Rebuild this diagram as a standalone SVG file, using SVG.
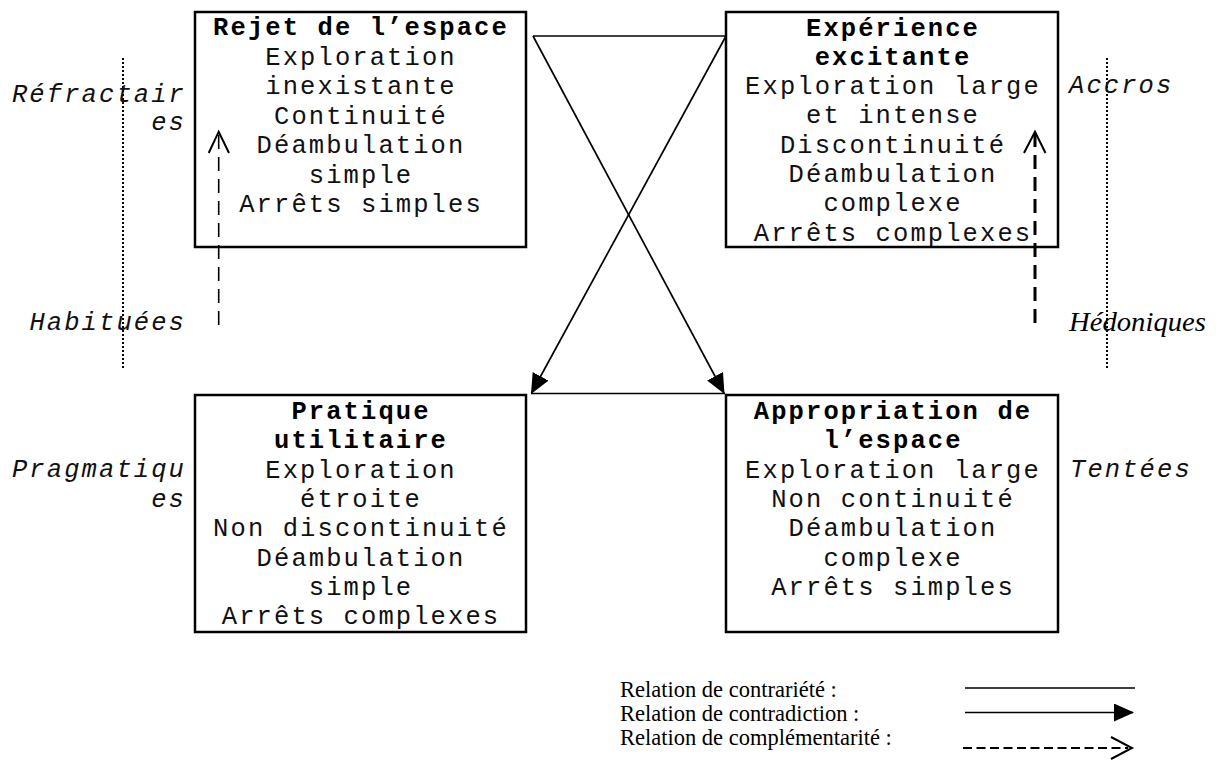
<svg xmlns="http://www.w3.org/2000/svg" width="1216" height="762" viewBox="0 0 1216 762">
  <style>
    .box { fill: #fff; stroke: #000; stroke-width: 2.5; }
    .t { font-family: "Liberation Mono", "Courier New", monospace; font-size: 25.5px; letter-spacing: 2.1px; fill: #111; text-anchor: middle; }
    .b { font-weight: bold; fill: #000; }
    .side { font-family: "Liberation Mono", "Courier New", monospace; font-size: 25.5px; letter-spacing: 2.1px; font-style: italic; fill: #111; }
    .serif { font-family: "Liberation Serif", "Times New Roman", serif; fill: #000; }
    .line { stroke: #000; stroke-width: 1.7; fill: none; }
    .dot { stroke: #000; stroke-width: 2; stroke-dasharray: 2 2; fill: none; }
    .dash { stroke: #000; fill: none; stroke-dasharray: 14 8; }
    .open { stroke: #000; fill: none; stroke-width: 2; stroke-linejoin: miter; }
  </style>
  <defs>
    <marker id="tri" viewBox="0 0 20 18" refX="19" refY="9" markerWidth="20" markerHeight="18" markerUnits="userSpaceOnUse" orient="auto">
      <path d="M0,0 L20,9 L0,18 Z" fill="#000"/>
    </marker>
  </defs>
  <rect width="1216" height="762" fill="#fff"/>

  <g id="sides">
    <line class="dot" x1="123" y1="58" x2="123" y2="370"/>
    <line class="dot" x1="1107" y1="58" x2="1107" y2="370"/>
    <text class="side" x="186" y="102" text-anchor="end">Réfractair</text>
    <text class="side" x="186" y="130" text-anchor="end">es</text>
    <text class="side" x="186" y="330" text-anchor="end">Habituées</text>
    <text class="side" x="186" y="477" text-anchor="end">Pragmatiqu</text>
    <text class="side" x="186" y="507" text-anchor="end">es</text>
    <text class="side" x="1069" y="93">Accros</text>
    <text class="side" x="1070" y="477">Tentées</text>
    <text class="serif" x="1069" y="331" font-size="27" font-style="italic" textLength="137" lengthAdjust="spacingAndGlyphs">Hédoniques</text>
  </g>

  <g id="node-rejet">
    <rect class="box" x="195" y="12" width="331" height="235"/>
    <text class="t b" x="361" y="35">Rejet de l’espace</text>
    <text class="t" x="361" y="64.5">Exploration</text>
    <text class="t" x="361" y="94">inexistante</text>
    <text class="t" x="361" y="123.5">Continuité</text>
    <text class="t" x="361" y="153">Déambulation</text>
    <text class="t" x="361" y="182.5">simple</text>
    <text class="t" x="361" y="212">Arrêts simples</text>
  </g>

  <g id="node-experience">
    <rect class="box" x="726" y="12" width="332" height="235"/>
    <text class="t b" x="893" y="35.5">Expérience</text>
    <text class="t b" x="893" y="64.8">excitante</text>
    <text class="t" x="893" y="94">Exploration large</text>
    <text class="t" x="893" y="123.4">et intense</text>
    <text class="t" x="893" y="152.7">Discontinuité</text>
    <text class="t" x="893" y="182">Déambulation</text>
    <text class="t" x="893" y="211.3">complexe</text>
    <text class="t" x="893" y="240.5">Arrêts complexes</text>
  </g>

  <g id="node-pratique">
    <rect class="box" x="195" y="395" width="331" height="237"/>
    <text class="t b" x="361" y="419">Pratique</text>
    <text class="t b" x="361" y="448.3">utilitaire</text>
    <text class="t" x="361" y="477.6">Exploration</text>
    <text class="t" x="361" y="507">étroite</text>
    <text class="t" x="361" y="536.3">Non discontinuité</text>
    <text class="t" x="361" y="565.6">Déambulation</text>
    <text class="t" x="361" y="595">simple</text>
    <text class="t" x="361" y="624.2">Arrêts complexes</text>
  </g>

  <g id="node-appropriation">
    <rect class="box" x="726" y="395" width="332" height="237"/>
    <text class="t b" x="893" y="419">Appropriation de</text>
    <text class="t b" x="893" y="448.3">l’espace</text>
    <text class="t" x="893" y="477.6">Exploration large</text>
    <text class="t" x="893" y="507">Non continuité</text>
    <text class="t" x="893" y="536.3">Déambulation</text>
    <text class="t" x="893" y="565.6">complexe</text>
    <text class="t" x="893" y="595">Arrêts simples</text>
  </g>

  <g id="connectors">
    <line class="line" x1="533" y1="36" x2="726" y2="36"/>
    <line class="line" x1="531" y1="393.5" x2="725" y2="393.5"/>
    <line class="line" x1="533" y1="36" x2="724" y2="393" marker-end="url(#tri)"/>
    <line class="line" x1="726" y1="36" x2="531.5" y2="393" marker-end="url(#tri)"/>
    <line class="dash" stroke-width="1.6" x1="218.7" y1="325" x2="218.7" y2="134"/>
    <path class="open" stroke-width="1.8" d="M208.7,153 L218.7,131.7 L229,153"/>
    <line class="dash" stroke-width="3" x1="1035" y1="323" x2="1035" y2="134"/>
    <path class="open" stroke-width="2.4" d="M1024,153 L1035,131.7 L1045.5,153"/>
  </g>

  <g id="legend">
    <text class="serif" x="620" y="697" font-size="22.5">Relation de contrariété :</text>
    <text class="serif" x="620" y="721" font-size="22.5">Relation de contradiction :</text>
    <text class="serif" x="620" y="745" font-size="22.5">Relation de complémentarité :</text>
    <line class="line" x1="965" y1="688" x2="1135" y2="688"/>
    <line class="line" x1="965" y1="712.5" x2="1133" y2="712.5" marker-end="url(#tri)"/>
    <line stroke="#000" stroke-width="2" stroke-dasharray="9 4.5" x1="963" y1="748" x2="1128" y2="748"/>
    <path class="open" d="M1111,737 L1132,748 L1111,759"/>
  </g>
</svg>
